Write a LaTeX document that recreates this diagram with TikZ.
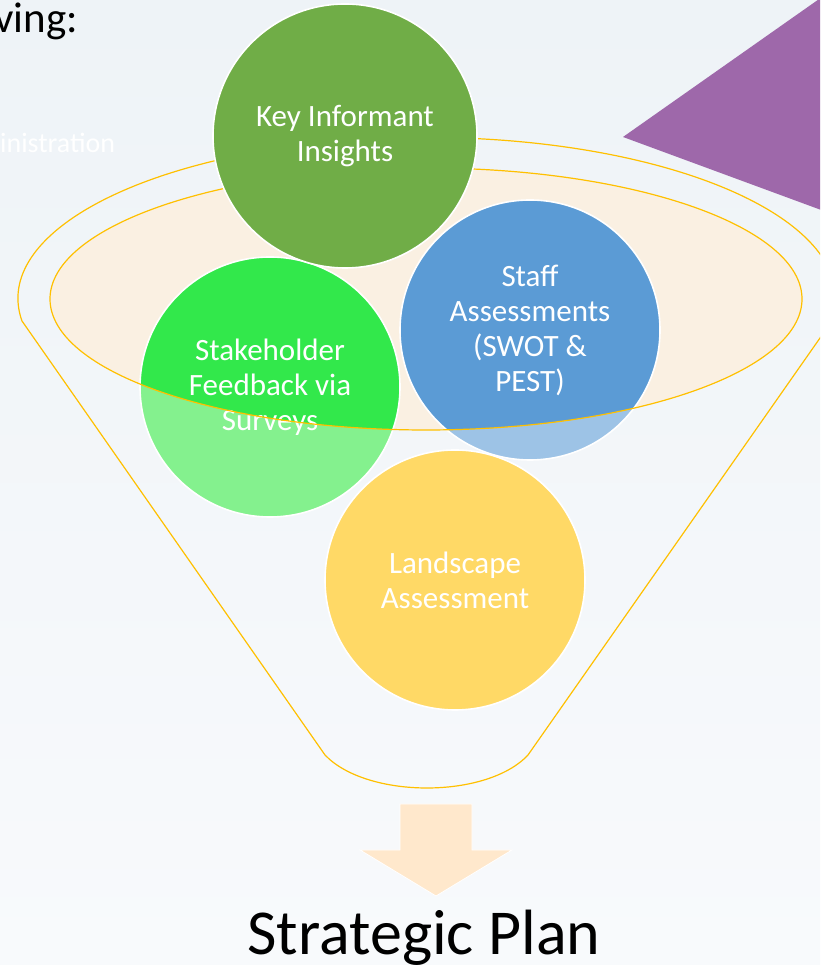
\documentclass[tikz,border=0pt]{standalone}
\usepackage{fontspec}
\setmainfont{Carlito}
\definecolor{bgtop}{RGB}{238,243,247}
\definecolor{bgbot}{RGB}{248,250,252}
\definecolor{kigreen}{RGB}{112,173,71}
\definecolor{sgreen}{RGB}{50,232,75}
\definecolor{sgreenl}{RGB}{132,241,142}
\definecolor{sblue}{RGB}{91,155,213}
\definecolor{sbluel}{RGB}{157,195,230}
\definecolor{syellow}{RGB}{255,217,102}
\definecolor{beige}{RGB}{250,240,226}
\definecolor{fnorange}{RGB}{255,192,0}
\definecolor{purp}{RGB}{158,104,170}
\definecolor{arrowpeach}{RGB}{255,232,204}
\tikzset{
  bubble/.style={circle, draw=white, line width=1.6pt, minimum size=260pt, inner sep=0pt,
    text=white, align=center, font=\fontsize{31}{35}\selectfont},
  funnelline/.style={draw=fnorange, line width=1.2pt},
}
\begin{document}
\begin{tikzpicture}[x=1pt,y=1pt]
\useasboundingbox (0,0) rectangle (820,965);
\clip (0,0) rectangle (820,965);
\shade[top color=bgtop, bottom color=bgbot] (0,0) rectangle (820,965);
% purple triangle
\fill[purp] (623,828) -- (832,975) -- (832,751) -- cycle;
% inner ellipse fill
\fill[beige] (426,666) ellipse [x radius=376, y radius=131];
% outer funnel outline
\draw[funnelline] (22,644) arc [start angle=188.05, end angle=-8.05, x radius=409, y radius=161]
  -- (528,210) .. controls (487,166) and (367,166) .. (325,210) -- cycle;
% stakeholder and staff circles (light below the ellipse)
\fill[sgreenl] (270,578) circle (130);
\fill[sbluel] (530,635) circle (130);
\begin{scope}
  \clip (426,666) ellipse [x radius=376, y radius=131];
  \fill[sgreen] (270,578) circle (130);
  \fill[sblue] (530,635) circle (130);
\end{scope}
\node[bubble] (sh) at (270,578) {Stakeholder\\Feedback via\\Surveys};
\node[bubble] (sa) at (530,635) {Staff\\Assessments\\(SWOT \&\\PEST)};
% inner ellipse outline
\draw[funnelline] (426,666) ellipse [x radius=376, y radius=131];
% landscape and key informant
\node[bubble, fill=syellow] (la) at (455,385) {Landscape\\Assessment};
\node[bubble, fill=kigreen, minimum size=264pt] (ki) at (345,829) {Key Informant\\Insights};
% arrow
\fill[arrowpeach, draw=white, line width=0.8pt] (400,161) -- (472,161) -- (472,115) -- (512,115)
  -- (436,69) -- (360,115) -- (400,115) -- cycle;
% texts
\node[anchor=base, inner sep=0pt, font=\fontsize{64}{70}\selectfont] (sp) at (424,10) {Strategic Plan};
\node[anchor=base east, inner sep=0pt, font=\fontsize{43}{48}\selectfont] (fw) at (78,932) {ving:};
\node[anchor=base west, inner sep=0pt, text=white, font=\fontsize{28}{32}\selectfont] (ad) at (0,812) {inistration};
\end{tikzpicture}
\end{document}
